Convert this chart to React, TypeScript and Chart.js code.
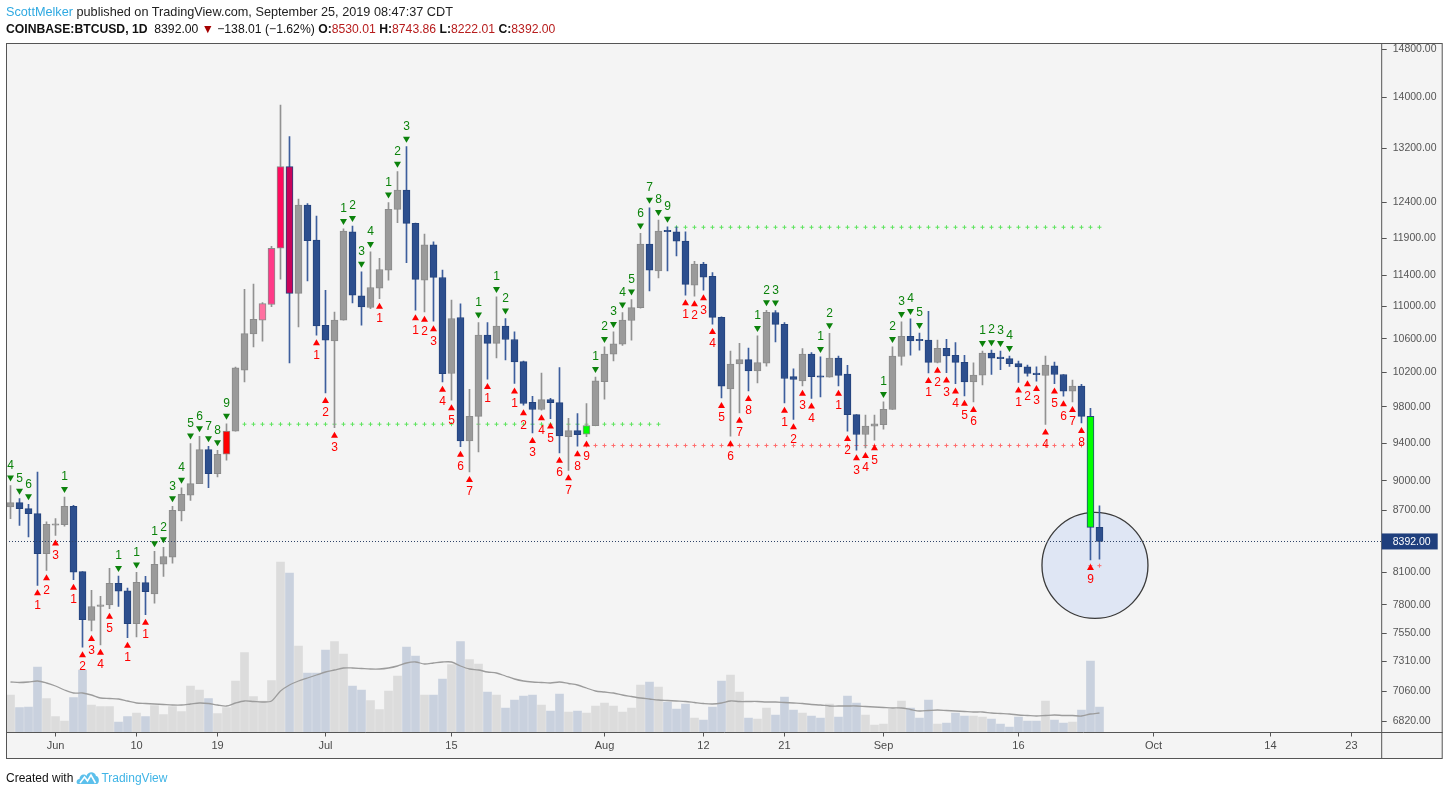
import React, { useEffect, useRef } from 'react';
import { Chart, registerables } from 'chart.js';

Chart.register(...registerables);

// ---------- data ----------
const startDate = '2019-05-27'; // first daily candle, one candle per day

const opens = [
  8733, 8776, 8716, 8666, 8275, 8550, 8556, 8739, 8105, 7663,
  7786, 7800, 7996, 7929, 7634, 8003, 7900, 8176, 8241, 8692,
  8852, 8971, 9329, 9074, 9279, 9530, 10222, 10660, 10829, 11026,
  11764, 12924, 11168, 12363, 11876, 10766, 10574, 10829, 11990, 11137,
  10988, 11237, 11471, 12304, 12580, 12107, 11340, 11810, 11375, 10184,
  10862, 9422, 9693, 10644, 10543, 10756, 10590, 10324, 9850, 9770,
  9882, 9848, 9470, 9535, 9496, 9590, 10087, 10413, 10535, 10825,
  10986, 11822, 11462, 11998, 11990, 11862, 11274, 11552, 11390, 10864,
  10005, 10296, 10347, 10213, 10306, 10925, 10777, 10147, 10098, 10413,
  10150, 10140, 10365, 10176, 9712, 9493, 9584, 9601, 9770, 10385,
  10630, 10582, 10582, 10315, 10482, 10400, 10315, 10086, 10164, 10425,
  10370, 10360, 10300, 10262, 10180, 10160, 10275, 10172, 9978, 10036,
  9693, 8530.01,
];
const highs = [
  8950, 8816, 8759, 9090, 8583, 8616, 8833, 8749, 8105, 7932,
  7877, 8136, 8064, 7953, 8098, 8061, 8297, 8336, 8739, 8928,
  9394, 9473, 9365, 9322, 9610, 10260, 11222, 11288, 11050, 11790,
  13874, 13380, 12450, 12385, 12210, 11209, 10930, 12030, 12070, 11450,
  11715, 11630, 12400, 12850, 13225, 12110, 11958, 11853, 11471, 11081,
  11035, 10000, 10800, 10800, 11123, 10850, 10685, 10330, 9920, 10190,
  9897, 10254, 9670, 9725, 9838, 10143, 10500, 10683, 10925, 11090,
  11967, 12326, 12154, 12060, 12060, 11990, 11590, 11575, 11440, 10870,
  10450, 10544, 10485, 10634, 10954, 10950, 10800, 10240, 10480, 10433,
  10380, 10667, 10390, 10280, 9712, 9706, 9706, 9856, 10500, 10807,
  10845, 10670, 10940, 10582, 10594, 10554, 10400, 10310, 10450, 10461,
  10450, 10390, 10330, 10282, 10262, 10390, 10320, 10172, 10106, 10056,
  9784, 8743.86,
];
const lows = [
  8616, 8549, 8435, 7978, 8117, 8450, 8540, 8030, 7430, 7570,
  7450, 7766, 7787, 7511, 7517, 7713, 7817, 8061, 8185, 8592,
  8799, 8971, 8928, 9039, 9215, 9530, 10086, 10500, 10570, 11000,
  11354, 10310, 10745, 11330, 10643, 9958, 9568, 10829, 11047, 10766,
  10975, 11100, 11340, 12116, 11570, 10954, 10933, 10816, 10086, 9875,
  9360, 9091, 9303, 10118, 10368, 10343, 10068, 9818, 9510, 9762,
  9668, 9294, 9109, 9365, 9470, 9590, 9887, 10333, 10517, 10582,
  10980, 11200, 11370, 11462, 11660, 11146, 11133, 11209, 10780, 9900,
  9474, 9732, 9981, 10075, 10270, 10561, 9845, 9660, 10040, 9895,
  9912, 10140, 10040, 9530, 9322, 9347, 9430, 9550, 9770, 10283,
  10400, 10461, 10190, 10310, 10194, 10066, 9925, 9856, 10050, 10172,
  10230, 10268, 10080, 10152, 10095, 9603, 10066, 9920, 9856, 9620,
  8215, 8222.01,
];
const closes = [
  8776, 8716, 8666, 8275, 8559, 8560, 8739, 8101, 7669, 7786,
  7802, 7996, 7925, 7634, 8006, 7920, 8173, 8248, 8699, 8860,
  8971, 9329, 9074, 9279, 9530, 10249, 10663, 10838, 11037, 11764,
  12924, 11168, 12363, 11866, 10758, 10582, 10829, 11998, 11146, 10996,
  11244, 11480, 12304, 12580, 12107, 11350, 11810, 11377, 10183, 10850,
  9422, 9693, 10644, 10543, 10756, 10590, 10320, 9838, 9770, 9882,
  9848, 9476, 9535, 9492, 9590, 10097, 10413, 10539, 10829, 10986,
  11822, 11471, 11998, 11990, 11862, 11284, 11552, 11380, 10864, 10036,
  10296, 10347, 10213, 10312, 10928, 10777, 10125, 10114, 10413, 10146,
  10140, 10365, 10162, 9712, 9493, 9584, 9609, 9773, 10389, 10630,
  10573, 10575, 10315, 10482, 10393, 10315, 10086, 10164, 10425, 10365,
  10360, 10300, 10262, 10184, 10170, 10282, 10172, 9978, 10036, 9693,
  8530, 8392.0,
];
// volume, thousands of BTC
const volumes = [
  7.5, 5.0, 5.1, 13.1, 6.8, 3.2, 2.3, 7.0, 12.5, 5.5,
  5.2, 5.2, 2.1, 3.2, 3.9, 3.2, 5.4, 3.6, 5.2, 4.2,
  9.3, 8.5, 6.8, 3.8, 5.0, 10.3, 16.0, 7.2, 6.3, 10.4,
  34.1, 31.9, 17.3, 11.9, 11.9, 16.5, 18.2, 15.7, 9.3, 8.5,
  6.4, 4.6, 8.3, 11.3, 17.1, 15.3, 7.5, 7.5, 10.7, 13.6,
  18.2, 14.6, 13.7, 8.1, 7.5, 4.9, 6.5, 7.3, 7.5, 5.5,
  4.3, 7.7, 4.1, 4.3, 3.9, 5.3, 5.9, 5.3, 4.1, 4.9,
  9.5, 10.1, 9.1, 6.1, 4.7, 5.7, 2.9, 2.5, 5.1, 10.3,
  11.5, 8.1, 2.9, 2.7, 4.9, 3.5, 7.1, 4.5, 3.9, 3.3,
  2.9, 5.7, 3.1, 7.3, 5.9, 3.5, 1.5, 1.7, 4.7, 6.3,
  4.9, 2.9, 6.5, 1.7, 1.9, 3.9, 3.3, 3.3, 3.1, 2.7,
  1.7, 1.1, 3.1, 2.3, 2.3, 6.3, 2.5, 1.9, 2.1, 4.5,
  14.3, 5.1,
];
// volume moving average as drawn, thousands of BTC
const volumeMA = [
  10.1, 10.0, 10.1, 10.3, 9.9, 9.3, 8.5, 7.9, 7.9, 7.5,
  6.9, 6.8, 6.7, 6.3, 5.9, 5.8, 5.7, 5.6, 5.5, 5.5,
  5.7, 5.9, 5.8, 5.5, 5.3, 5.9, 6.3, 6.2, 6.1, 6.3,
  8.3, 9.5, 10.3, 10.9, 11.5, 12.1, 12.5, 12.9, 12.9, 12.8,
  12.7, 12.7, 12.9, 13.3, 13.9, 14.1, 13.7, 13.9, 14.1, 14.1,
  13.3, 12.7, 12.5, 12.1, 11.9, 11.3, 10.7, 10.3, 10.1, 10.0,
  9.9, 10.1, 9.8, 9.5, 8.9, 8.3, 8.1, 7.9, 7.5, 7.2,
  6.9, 6.7, 6.5, 6.4, 6.3, 6.2, 6.0, 5.8, 5.7, 5.9,
  6.3, 6.2, 6.2, 6.2, 6.1, 6.1, 6.0, 5.9, 5.8, 5.6,
  5.5, 5.3, 5.3, 5.3, 5.3, 5.2, 5.1, 5.0, 4.9, 4.9,
  4.6, 4.3, 4.4, 4.5, 4.4, 4.3, 4.2, 4.1, 4.1, 3.9,
  3.8, 3.7, 3.5, 3.4, 3.3, 3.4, 3.5, 3.4, 3.4, 3.3,
  3.7, 3.9,
];
// TD sequential setup counts (0 = none): green above the high, red below the low
const tdGreen = [
  4, 5, 6, 0, 0, 0, 1, 0, 0, 0,
  0, 0, 1, 0, 1, 0, 1, 2, 3, 4,
  5, 6, 7, 8, 9, 0, 0, 0, 0, 0,
  0, 0, 0, 0, 0, 0, 0, 1, 2, 3,
  4, 0, 1, 2, 3, 0, 0, 0, 0, 0,
  0, 0, 1, 0, 1, 2, 0, 0, 0, 0,
  0, 0, 0, 0, 0, 1, 2, 3, 4, 5,
  6, 7, 8, 9, 0, 0, 0, 0, 0, 0,
  0, 0, 0, 1, 2, 3, 0, 0, 0, 0,
  1, 2, 0, 0, 0, 0, 0, 1, 2, 3,
  4, 5, 0, 0, 0, 0, 0, 0, 1, 2,
  3, 4, 0, 0, 0, 0, 0, 0, 0, 0,
  0, 0,
];
const tdRed = [
  0, 0, 0, 1, 2, 3, 0, 1, 2, 3,
  4, 5, 0, 1, 0, 1, 0, 0, 0, 0,
  0, 0, 0, 0, 0, 0, 0, 0, 0, 0,
  0, 0, 0, 0, 1, 2, 3, 0, 0, 0,
  0, 1, 0, 0, 0, 1, 2, 3, 4, 5,
  6, 7, 0, 1, 0, 0, 1, 2, 3, 4,
  5, 6, 7, 8, 9, 0, 0, 0, 0, 0,
  0, 0, 0, 0, 0, 1, 2, 3, 4, 5,
  6, 7, 8, 0, 0, 0, 1, 2, 3, 4,
  0, 0, 1, 2, 3, 4, 5, 0, 0, 0,
  0, 0, 1, 2, 3, 4, 5, 6, 0, 0,
  0, 0, 1, 2, 3, 4, 5, 6, 7, 8,
  9, 0,
];
// candles painted with a special colour (index -> colour)
const highlightIndex = [24, 28, 29, 30, 31, 64, 120];
const highlightColor = ['#ff0000', '#ff70a0', '#ff3a88', '#ff0a5e', '#c8035a', '#00ff00', '#00ff00'];

// TDST dotted levels
const levelPrice = [9606, 12053, 9373, 8161];
const levelStart = [25, 74, 64, 120];
const levelEnd = [72, 121, 119, 121];
const levelColor = ['#5fe35f', '#5fe35f', '#ff6e6e', '#ff6e6e'];

const lastPrice = 8392.0;
const circleIndex = 120.5;
const circlePrice = 8164;

const priceTicks = [14800, 14000, 13200, 12400, 11900, 11400, 11000, 10600, 10200, 9800, 9400, 9000, 8700, 8100, 7800, 7550, 7310, 7060, 6820];
const timeTickDates = ['2019-06-01', '2019-06-10', '2019-06-19', '2019-07-01', '2019-07-15', '2019-08-01', '2019-08-12', '2019-08-21', '2019-09-01', '2019-09-16', '2019-10-01', '2019-10-14', '2019-10-23'];
const timeTickLabels = ['Jun', '10', '19', 'Jul', '15', 'Aug', '12', '21', 'Sep', '16', 'Oct', '14', '23'];

// ---------- helpers ----------
const dayIndex = (d: string) => {
  const [y, m, dd] = d.split('-').map(Number);
  const [sy, sm, sd] = startDate.split('-').map(Number);
  return Math.round((Date.UTC(y, m - 1, dd) - Date.UTC(sy, sm - 1, sd)) / 86400000);
};

const UP_FILL = '#9a9a9a';
const UP_BORDER = '#8b8b8b';
const UP_WICK = '#929292';
const DN_FILL = '#2d4f8e';
const DN_BORDER = '#24437d';
const DN_WICK = '#3d5e9d';
const GREEN = '#0b820b';
const RED = '#ff0000';
const FONT = '"Liberation Sans", Arial, sans-serif';

const FRAME = { left: 6, top: 43, right: 1442.7, bottom: 759, axisX: 1381.7, axisY: 732.5 };

export default function App() {
  const ref = useRef<HTMLCanvasElement | null>(null);

  useEffect(() => {
    const canvas = ref.current;
    if (!canvas) return;
    const n = closes.length;
    const isUp = closes.map((c, i) => c >= opens[i]);
    const bodyFill = isUp.map((u, i) => {
      const k = highlightIndex.indexOf(i);
      return k >= 0 ? highlightColor[k] : u ? UP_FILL : DN_FILL;
    });
    const bodyBorder = isUp.map((u) => (u ? UP_BORDER : DN_BORDER));
    const wickColor = isUp.map((u) => (u ? UP_WICK : DN_WICK));
    const volColor = isUp.map((u) => (u ? '#dcdcdc' : '#c9d1de'));
    const tickIdx = timeTickDates.map(dayIndex);

    const levelSets = levelPrice.map((p, k) => {
      const pts: { x: number; y: number }[] = [];
      for (let i = levelStart[k]; i <= levelEnd[k]; i++) pts.push({ x: i, y: p });
      return {
        type: 'line' as const,
        data: pts,
        showLine: false,
        pointStyle: 'cross',
        pointRadius: 2,
        pointBorderWidth: 1,
        pointBorderColor: levelColor[k],
        pointBackgroundColor: levelColor[k],
        yAxisID: 'y',
        order: 3,
      };
    });

    const bgPlugin = {
      id: 'bg',
      beforeDraw(chart: any) {
        const c = chart.ctx;
        c.save();
        c.fillStyle = '#ffffff';
        c.fillRect(0, 0, chart.width, chart.height);
        c.fillStyle = '#f4f4f4';
        c.fillRect(FRAME.left, FRAME.top, FRAME.right - FRAME.left, FRAME.bottom - FRAME.top);
        c.restore();
      },
    };

    const circlePlugin = {
      id: 'circle',
      beforeDatasetsDraw(chart: any) {
        const { ctx: c, scales } = chart;
        const cx = scales.x.getPixelForValue(circleIndex);
        const cy = scales.y.getPixelForValue(circlePrice);
        c.save();
        c.beginPath();
        c.arc(cx, cy, 53, 0, Math.PI * 2);
        c.fillStyle = 'rgba(205, 219, 244, 0.55)';
        c.fill();
        c.lineWidth = 1.3;
        c.strokeStyle = '#3a3a3a';
        c.stroke();
        c.restore();
      },
    };

    const tri = (c: CanvasRenderingContext2D, x: number, y: number, down: boolean, color: string) => {
      c.beginPath();
      if (down) {
        c.moveTo(x - 3.5, y - 3);
        c.lineTo(x + 3.5, y - 3);
        c.lineTo(x, y + 3);
      } else {
        c.moveTo(x - 3.5, y + 3);
        c.lineTo(x + 3.5, y + 3);
        c.lineTo(x, y - 3);
      }
      c.closePath();
      c.fillStyle = color;
      c.fill();
    };

    const overlayPlugin = {
      id: 'overlay',
      afterDatasetsDraw(chart: any) {
        const { ctx: c, scales, chartArea } = chart;
        const xs = scales.x;
        const ys = scales.y;
        c.save();
        // last price dotted line
        const py = Math.round(ys.getPixelForValue(lastPrice)) + 0.5;
        c.strokeStyle = '#2f4368';
        c.lineWidth = 1;
        c.setLineDash([1, 2]);
        c.beginPath();
        c.moveTo(chartArea.left, py);
        c.lineTo(chartArea.right, py);
        c.stroke();
        c.setLineDash([]);
        // TD counts
        c.font = '12px ' + FONT;
        c.textAlign = 'center';
        c.textBaseline = 'middle';
        for (let i = 0; i < n; i++) {
          const x = xs.getPixelForValue(i);
          if (tdGreen[i]) {
            const y = ys.getPixelForValue(highs[i]);
            tri(c, x, y - 7, true, GREEN);
            c.fillStyle = GREEN;
            c.fillText(String(tdGreen[i]), x, y - 20);
          }
          if (tdRed[i]) {
            const y = ys.getPixelForValue(lows[i]);
            tri(c, x, y + 7, false, RED);
            c.fillStyle = RED;
            c.fillText(String(tdRed[i]), x, y + 20);
          }
        }
        c.restore();
      },
      afterDraw(chart: any) {
        const { ctx: c, scales } = chart;
        const ys = scales.y;
        c.save();
        c.strokeStyle = '#555555';
        c.lineWidth = 1;
        c.beginPath();
        c.moveTo(FRAME.left, FRAME.axisY);
        c.lineTo(FRAME.right, FRAME.axisY);
        c.moveTo(FRAME.axisX, FRAME.top);
        c.lineTo(FRAME.axisX, FRAME.bottom);
        c.stroke();
        c.strokeRect(FRAME.left + 0.5, FRAME.top + 0.5, FRAME.right - FRAME.left - 1, FRAME.bottom - FRAME.top - 1);
        // last price label
        const py = ys.getPixelForValue(lastPrice);
        c.fillStyle = '#1f3f7d';
        c.fillRect(FRAME.axisX, py - 8, 56, 16);
        c.fillStyle = '#ffffff';
        c.font = '10.5px ' + FONT;
        c.textAlign = 'left';
        c.textBaseline = 'middle';
        c.fillText(lastPrice.toFixed(2), FRAME.axisX + 11, py + 0.5);
        c.restore();
      },
    };

    const chart = new Chart(canvas, {
      type: 'bar',
      data: {
        datasets: [
          {
            type: 'bar',
            data: opens.map((o, i) => ({ x: i, y: [o, closes[i]] })) as any,
            backgroundColor: bodyFill,
            borderColor: bodyBorder,
            borderWidth: 1,
            borderSkipped: false,
            barThickness: 7,
            minBarLength: 1.5,
            grouped: false,
            yAxisID: 'y',
            order: 1,
          } as any,
          {
            type: 'bar',
            data: lows.map((l, i) => ({ x: i, y: [l, highs[i]] })) as any,
            backgroundColor: wickColor,
            borderWidth: 0,
            barThickness: 1,
            grouped: false,
            yAxisID: 'y',
            order: 2,
          } as any,
          ...(levelSets as any[]),
          {
            type: 'line',
            data: volumeMA.map((v, i) => ({ x: i, y: v })),
            borderColor: '#9c9c9c',
            borderWidth: 1.3,
            pointRadius: 0,
            tension: 0.3,
            yAxisID: 'vol',
            order: 4,
          } as any,
          {
            type: 'bar',
            data: volumes.map((v, i) => ({ x: i, y: v })),
            backgroundColor: volColor,
            borderWidth: 0,
            barThickness: 8,
            grouped: false,
            yAxisID: 'vol',
            order: 5,
          } as any,
        ],
      },
      options: {
        animation: false,
        responsive: false,
        events: [],
        layout: { padding: { left: FRAME.left, top: FRAME.top, right: 1450 - FRAME.right, bottom: 796 - FRAME.bottom } },
        plugins: { legend: { display: false }, tooltip: { enabled: false } },
        scales: {
          x: {
            type: 'linear',
            offset: false,
            min: -0.5,
            max: 152.36,
            afterBuildTicks: (s: any) => {
              s.ticks = tickIdx.map((v) => ({ value: v }));
            },
            afterFit: (s: any) => {
              s.height = FRAME.bottom - FRAME.axisY;
            },
            ticks: {
              autoSkip: false,
              maxRotation: 0,
              padding: 3,
              color: '#4a4a4a',
              font: { family: FONT, size: 11 },
              callback: (_v: any, i: number) => timeTickLabels[i],
            },
            grid: { offset: false, drawOnChartArea: false, drawTicks: true, tickLength: 4, tickColor: '#555555' },
            border: { display: false },
          },
          y: {
            type: 'logarithmic',
            position: 'right',
            min: 6734,
            max: 14903,
            afterBuildTicks: (s: any) => {
              s.ticks = priceTicks.map((v) => ({ value: v }));
            },
            afterFit: (s: any) => {
              s.width = FRAME.right - FRAME.axisX;
            },
            ticks: {
              autoSkip: false,
              padding: 6,
              color: '#555555',
              font: { family: FONT, size: 10.5 },
              callback: (v: any) => Number(v).toFixed(2),
            },
            grid: { drawOnChartArea: false, drawTicks: true, tickLength: 5, tickColor: '#555555' },
            border: { display: false },
          },
          vol: {
            type: 'linear',
            display: false,
            min: 0,
            max: 137.9,
          },
        },
      } as any,
      plugins: [bgPlugin, circlePlugin, overlayPlugin],
    });
    return () => chart.destroy();
  }, []);

  const red = '#b71c1c';
  return (
    <div style={{ position: 'fixed', left: 0, top: 0, width: 1450, height: 796, background: '#fff', overflow: 'hidden', fontFamily: FONT }}>
      <canvas ref={ref} width={1450} height={796} style={{ position: 'absolute', left: 0, top: 0, width: 1450, height: 796 }} />
      <div style={{ position: 'absolute', left: 6, top: 4, fontSize: 12.7, color: '#222', whiteSpace: 'nowrap', lineHeight: '16px' }}>
        <span style={{ color: '#2fa9e1' }}>ScottMelker</span> published on TradingView.com, September 25, 2019 08:47:37 CDT
      </div>
      <div style={{ position: 'absolute', left: 6, top: 21, fontSize: 12.2, color: '#111', whiteSpace: 'nowrap', lineHeight: '16px' }}>
        <b>COINBASE:BTCUSD, 1D</b>&nbsp; 8392.00 <span style={{ color: '#a50000' }}>▼</span> −138.01 (−1.62%) <b>O:</b>
        <span style={{ color: red }}>8530.01</span> <b>H:</b>
        <span style={{ color: red }}>8743.86</span> <b>L:</b>
        <span style={{ color: red }}>8222.01</span> <b>C:</b>
        <span style={{ color: red }}>8392.00</span>
      </div>
      <div style={{ position: 'absolute', left: 6, top: 770, fontSize: 12, color: '#111', whiteSpace: 'nowrap', display: 'flex', alignItems: 'center', lineHeight: '16px' }}>
        <span>Created with</span>
        <svg width="24" height="16" viewBox="0 0 24 16" style={{ margin: '0 1px 0 3px' }}>
          <path d="M2 14 C0 14 0 9 3.5 9 C3.5 5 8 3 10.5 6 C12 1 19 1 20 6 C23.5 6 24 14 20.5 14 Z" fill="#5cc0ec" />
          <path d="M4 13 L8.5 7 L11.5 11 L15 5 L19.5 13" fill="none" stroke="#ffffff" strokeWidth="1.6" />
        </svg>
        <span style={{ color: '#3fb4e6' }}>TradingView</span>
      </div>
    </div>
  );
}
